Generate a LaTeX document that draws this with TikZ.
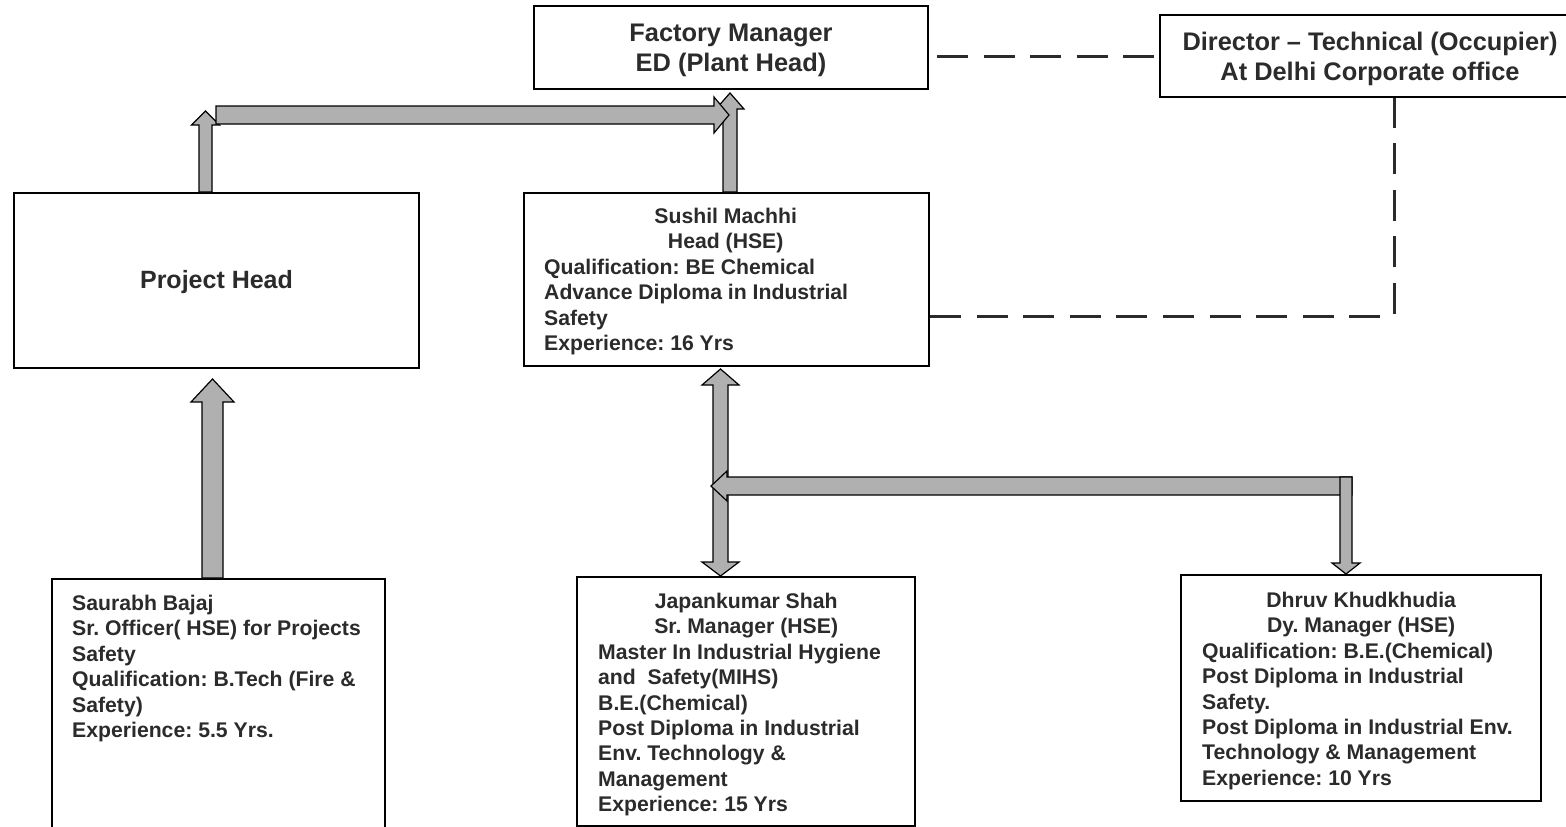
\documentclass[tikz,border=0pt]{standalone}
\usepackage{fontspec}
\setmainfont{Liberation Sans}
\usetikzlibrary{calc}
\definecolor{txtc}{HTML}{2B2B2B}
\definecolor{arrowfill}{HTML}{B0B0B0}
\frenchspacing
\begin{document}
\frenchspacing
\begin{tikzpicture}[x=1pt,y=-1pt,
  box/.style={draw=black, line width=2pt, fill=white, inner sep=0pt},
  bigtxt/.style={font=\fontsize{25.4pt}{30pt}\selectfont\bfseries, text=txtc, align=center},
  txt/.style={font=\fontsize{21.2pt}{25.4pt}\selectfont\bfseries, text=txtc, align=left, inner sep=0pt},
  blk/.style={fill=arrowfill, draw=black, line width=1.2pt, line join=miter},
  dashline/.style={draw=txtc, line width=3pt, dash pattern=on 31pt off 15.5pt}]
\fill[white] (0,0) rectangle (1566,827);
\useasboundingbox (0,0) rectangle (1566,827);

% boxes
\node[box, minimum width=394pt, minimum height=83pt] (fm) at (731,47.5) {};
\node[bigtxt, anchor=center] (fmT) at (731,50) {Factory Manager\\ED (Plant Head)};
\node[box, minimum width=420pt, minimum height=82pt] (dir) at (1370,56) {};
\node[bigtxt, anchor=center] (dirT) at (1370,59) {Director -- Technical (Occupier)\\At Delhi Corporate office};
\node[box, minimum width=405pt, minimum height=175pt] (ph) at (216.5,280.5) {};
\node[font=\fontsize{25pt}{30pt}\selectfont\bfseries, text=txtc] (phT) at (216.5,282.5) {Project Head};
\node[box, minimum width=405pt, minimum height=173pt] (sm) at (726.5,279.5) {};
\node[box, minimum width=333pt, minimum height=261pt] (sb) at (218.5,709.5) {};
\node[box, minimum width=338pt, minimum height=249pt] (jk) at (746,701.5) {};
\node[box, minimum width=360pt, minimum height=226pt] (dk) at (1361,688) {};

% box texts
\node[txt, anchor=north west] (smT) at (544,208) {\makebox[363pt][c]{Sushil Machhi}\\\makebox[363pt][c]{Head (HSE)}\\Qualification: BE Chemical\\Advance Diploma in Industrial\\Safety\\Experience: 16 Yrs};
\node[txt, anchor=north west] (sbT) at (72,595) {Saurabh Bajaj\\Sr. Officer( HSE) for Projects\\Safety\\Qualification: B.Tech (Fire \&\\Safety)\\Experience: 5.5 Yrs.};
\node[txt, anchor=north west] (jkT) at (598,593) {\makebox[296pt][c]{Japankumar Shah}\\\makebox[296pt][c]{Sr. Manager (HSE)}\\Master In Industrial Hygiene\\and~ Safety(MIHS)\\B.E.(Chemical)\\Post Diploma in Industrial\\Env. Technology \&\\Management\\Experience: 15 Yrs};
\node[txt, anchor=north west] (dkT) at (1202,592) {\makebox[318pt][c]{Dhruv Khudkhudia}\\\makebox[318pt][c]{Dy. Manager (HSE)}\\Qualification: B.E.(Chemical)\\Post Diploma in Industrial\\Safety.\\Post Diploma in Industrial Env.\\Technology \& Management\\Experience: 10 Yrs};

% dashed links
\draw[dashline, dash phase=38.5pt] (fm.east |- dir.west) -- (dir.west);
\draw[dashline, dash pattern=on 31pt off 15.6pt] (sm.east |- 0,316) -- (1394,316) -- (1394,0 |- dir.south);

% block arrows
% Saurabh -> Project Head
\draw[blk] (202,0 |- sb.north) -- (202,402) -- (191,402) -- (212.5,379) -- (234,402) -- (223,402) -- (223,0 |- sb.north) -- cycle;
% Project Head -> Factory Manager (elbow)
\draw[blk] (199,0 |- ph.north) -- (199,125) -- (191.5,125) -- (205.5,111) -- (219.5,125) -- (212,125) -- (212,0 |- ph.north) -- cycle;
% Sushil -> Factory Manager
\draw[blk] (723,0 |- sm.north) -- (723,109) -- (716,109) -- (730,93) -- (744,109) -- (737,109) -- (737,0 |- sm.north) -- cycle;
\draw[blk] (216,106) -- (714,106) -- (714,97) -- (729,115) -- (714,133) -- (714,124) -- (216,124) -- cycle;
% Sushil <-> Japankumar
\draw[blk] (720.5,369) -- (739,385) -- (728,385) -- (728,562) -- (739,562) -- (720.5,0 |- jk.north) -- (702,562) -- (713,562) -- (713,385) -- (702,385) -- cycle;
% Dhruv branch
\draw[blk] (1352,477) -- (727,477) -- (727,471) -- (711,486) -- (727,501) -- (727,495) -- (1352,495) -- cycle;
\draw[blk] (1340,477) -- (1340,563) -- (1332,563) -- (1346,0 |- dk.north) -- (1360,563) -- (1352,563) -- (1352,477) -- cycle;
\end{tikzpicture}
\end{document}
